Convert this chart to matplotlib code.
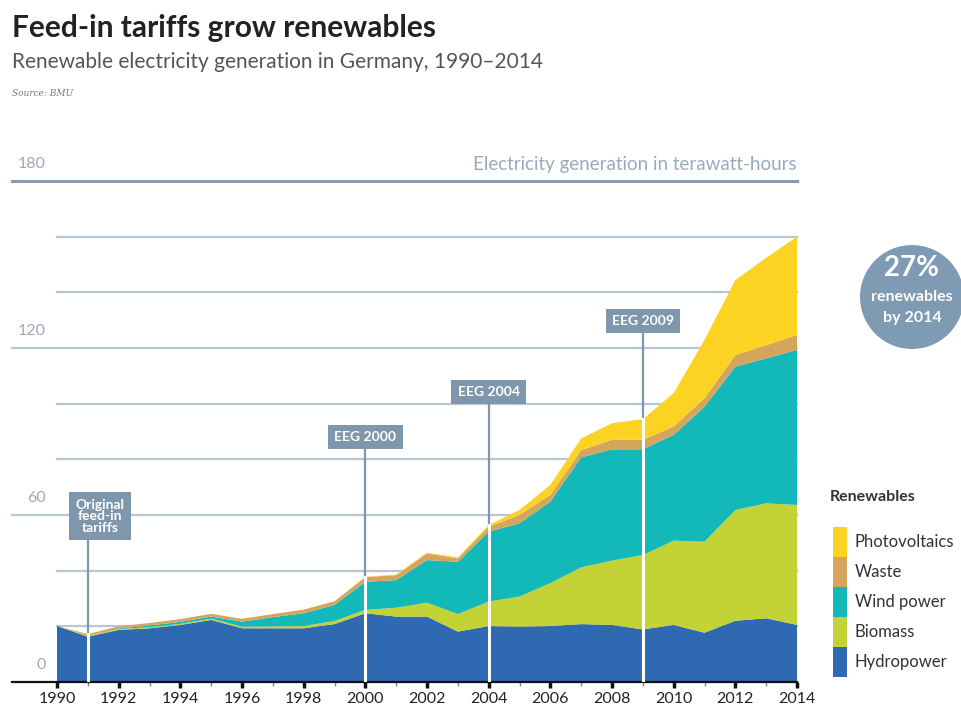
import matplotlib
matplotlib.use("Agg")
from matplotlib import pyplot as plt
from matplotlib.patches import Ellipse, Rectangle
from matplotlib.transforms import blended_transform_factory
import numpy as np

# ---------------------------------------------------------------------------
# Data (TWh)
# ---------------------------------------------------------------------------
years = list(range(1990, 2015))
hydropower = [20.1, 16.3, 18.7, 19.3, 20.5, 22.3, 19.3, 19.3, 19.3, 20.8, 24.7, 23.5, 23.5,
              18.1, 20.1, 19.9, 20.1, 20.8, 20.5, 18.9, 20.5, 17.7, 22.0, 22.9, 20.5]
biomass = [0.0, 0.3, 0.3, 0.4, 0.4, 0.5, 0.6, 0.7, 0.8, 1.1, 1.2, 3.2, 5.0,
           6.3, 8.8, 10.8, 15.4, 20.4, 23.1, 26.7, 30.3, 32.7, 39.8, 41.3, 43.1]
wind = [0.0, 0.0, 0.2, 0.6, 0.7, 0.7, 1.8, 3.3, 4.6, 5.8, 10.1, 9.9, 15.3,
        18.8, 25.1, 26.3, 29.3, 39.5, 40.0, 38.0, 38.0, 48.5, 51.5, 52.1, 55.7]
waste = [0.0, 0.6, 0.8, 0.9, 1.0, 1.0, 1.0, 1.1, 1.3, 1.3, 1.7, 1.8, 2.4,
         1.2, 1.8, 3.0, 2.4, 2.6, 3.4, 3.4, 3.0, 3.0, 4.2, 4.7, 5.4]
photovoltaics = [0.0, 0.0, 0.0, 0.0, 0.0, 0.0, 0.0, 0.0, 0.0, 0.0, 0.1, 0.2, 0.3,
                 0.4, 0.6, 1.8, 3.6, 4.2, 6.0, 7.4, 12.0, 21.0, 26.9, 31.4, 35.3]

series_names = ["Hydropower", "Biomass", "Wind power", "Waste", "Photovoltaics"]
series_colors = ["#2f69b1", "#c3d235", "#13b8b9", "#d5a55c", "#fdd323"]

events = [1991, 2000, 2004, 2009]
event_labels = ["Original\nfeed-in\ntariffs", "EEG 2000", "EEG 2004", "EEG 2009"]
label_heights = [59.6, 88.0, 104.2, 129.7]   # label box centre (TWh)
label_offsets = [0.4, 0.0, 0.0, 0.0]          # label box x shift (years)

W, H = 962, 708
BOX = "#7f97ad"
GRID = "#b9c6d3"
AXIS_GREY = "#9aaabb"

def fx(px):
    return px / W

def fy(py):
    return 1 - py / H

fig = plt.figure(figsize=(W / 100, H / 100), dpi=100)
ax = fig.add_axes([fx(57), fy(682), fx(797) - fx(57), fy(181) - fy(682)])
ax.set_xlim(1990, 2014)
ax.set_ylim(0, 180)

# gridlines under the areas
for v in range(20, 180, 20):
    left = -45 / 740 if v in (60, 120) else 0
    ax.axhline(v, xmin=left, xmax=1, color=GRID, lw=1.6, zorder=0, clip_on=False)
ax.axhline(180, xmin=-45 / 740, xmax=1, color="#8a9db0", lw=2.2, zorder=0, clip_on=False)

stack = [hydropower, biomass, wind, waste, photovoltaics]
ax.stackplot(years, stack, colors=series_colors, linewidth=0, zorder=2)
total = np.sum(np.array(stack), axis=0)

# event markers: white line inside the area, grey line up to the label box
for yr, lab, h, off in zip(events, event_labels, label_heights, label_offsets):
    top = np.interp(yr, years, total)
    ax.plot([yr, yr], [0, top], color="white", lw=2.2, zorder=3)
    ax.plot([yr, yr], [top, h - 3], color=BOX, lw=1.6, zorder=1)
    ax.text(yr + off, h, lab, ha="center", va="center", color="white", fontsize=10,
            fontfamily="Lato", fontweight="bold", linespacing=0.95, zorder=4,
            bbox=dict(boxstyle="square,pad=0.45", fc=BOX, ec="none"))

# y labels sit above their lines
ylab_tr = blended_transform_factory(ax.transAxes, ax.transData)
for v in (0, 60, 120, 180):
    ax.text(-11 / 740, v + 6, str(v), ha="right", va="center", color=AXIS_GREY,
            fontsize=11.5, fontfamily="Lato", transform=ylab_tr)
ax.text(2014, 186, "Electricity generation in terawatt-hours", ha="right", va="center",
        color=AXIS_GREY, fontsize=13.5, fontfamily="Lato")

for s in ("top", "right", "left"):
    ax.spines[s].set_visible(False)
ax.spines["bottom"].set_color("#111111")
ax.spines["bottom"].set_linewidth(1.6)
ax.spines["bottom"].set_bounds(1990 - 45 / 30.83, 2014)
ax.set_yticks([])
ax.set_xticks(range(1990, 2015, 2))
ax.set_xticks(range(1991, 2015, 2), minor=True)
ax.tick_params(axis="x", which="major", length=4, width=2.5, color="#111111", pad=3,
               labelsize=11.5, labelcolor="#222222")
ax.tick_params(axis="x", which="minor", length=3, width=1, color="#888888")
for t in ax.get_xticklabels():
    t.set_fontfamily("Lato")

# titles
fig.text(fx(12), fy(28), "Feed-in tariffs grow renewables", fontsize=21.5, fontweight="bold",
         fontfamily="Lato", color="#222222", va="center")
fig.text(fx(12), fy(62), "Renewable electricity generation in Germany, 1990\u20132014",
         fontsize=15, fontfamily="Lato", color="#555555", va="center")
fig.text(fx(12), fy(93), "Source: BMU", fontsize=6.5, fontstyle="italic",
         fontfamily="DejaVu Serif", color="#777777", va="center")

# badge
fig.add_artist(Ellipse((fx(912), fy(297)), 104 / W, 104 / H, transform=fig.transFigure,
                       fc="#7f9bb3", ec="none"))
fig.text(fx(912), fy(268), "27%", ha="center", va="center", color="white", fontsize=20,
         fontweight="bold", fontfamily="Lato")
fig.text(fx(912), fy(297), "renewables", ha="center", va="center", color="white",
         fontsize=11.5, fontweight="bold", fontfamily="Lato")
fig.text(fx(912), fy(318), "by 2014", ha="center", va="center", color="white",
         fontsize=11.5, fontweight="bold", fontfamily="Lato")

# legend, top series first
fig.text(fx(830), fy(497), "Renewables", fontsize=11.5, fontweight="bold", fontfamily="Lato",
         color="#333333", va="center")
for i, (name, col) in enumerate(zip(series_names[::-1], series_colors[::-1])):
    y0 = 527 + i * 30
    fig.add_artist(Rectangle((fx(833), fy(y0 + 30)), 14 / W, 30 / H,
                             transform=fig.transFigure, fc=col, ec="none"))
    fig.text(fx(855), fy(y0 + 15), name, fontsize=12, fontfamily="Lato", color="#333333",
             va="center")

fig.savefig("out.png", dpi=100)
